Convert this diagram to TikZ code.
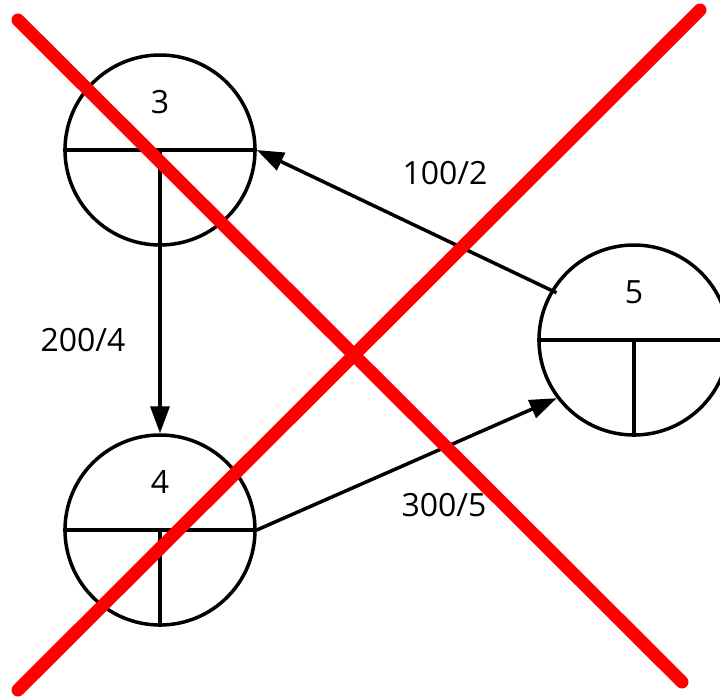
\documentclass[tikz,border=0pt]{standalone}
\usepackage{fontspec}
\setmainfont{Open Sans}
\usetikzlibrary{arrows.meta,positioning,calc}
\definecolor{crossred}{HTML}{FF0000}
\tikzset{
  event/.style={circle,draw,line width=3.5pt,minimum size=190pt,inner sep=0pt},
  eventnum/.style={font=\fontsize{32}{38}\selectfont,inner sep=0pt},
  cost/.style={font=\fontsize{32}{38}\selectfont,inner sep=0pt},
  split/.style={line width=3.5pt},
  arrow/.style={-{Triangle[length=27pt,width=19pt]},line width=3.5pt},
  cross/.style={line width=13pt,crossred,line cap=round}
}

\begin{document}
\begin{tikzpicture}[x=1pt,y=-1pt]
  \useasboundingbox (0,0) rectangle (720,699);

  % events
  \node[event] (n3) at (160,150) {};
  \node[event] (n4) at (160,530) {};
  \node[event] (n5) at (634,340) {};
  \draw[split] (n3.west) -- (n3.east);
  \draw[split] (n3.center) -- (n3.south);
  \draw[split] (n4.west) -- (n4.east);
  \draw[split] (n4.center) -- (n4.south);
  \draw[split] (n5.west) -- (n5.east);
  \draw[split] (n5.center) -- (n5.south);
  \node[eventnum] (t3) at ([yshift=48pt]n3.center) {3};
  \node[eventnum] (t4) at ([yshift=48pt]n4.center) {4};
  \node[eventnum] (t5) at ([yshift=48pt]n5.center) {5};

  % activities
  \draw[arrow] (n3.south) -- (n4.north);
  \draw[arrow] (n4.east) -- (n5.217);
  \draw[arrow,shorten <=-6pt] (n5.149) -- (n3.east);
  \node[cost] (c34) at (83,340) {200/4};
  \node[cost] (c45) at (444,505) {300/5};
  \node[cost] (c53) at (445,173) {100/2};

  % crossed out
  \coordinate (xa) at (18,20);
  \coordinate (xb) at (682,682);
  \coordinate (xc) at (700,10);
  \coordinate (xd) at (18,690);
  \draw[cross] (xa) -- (xb);
  \draw[cross] (xc) -- (xd);
\end{tikzpicture}
\end{document}
